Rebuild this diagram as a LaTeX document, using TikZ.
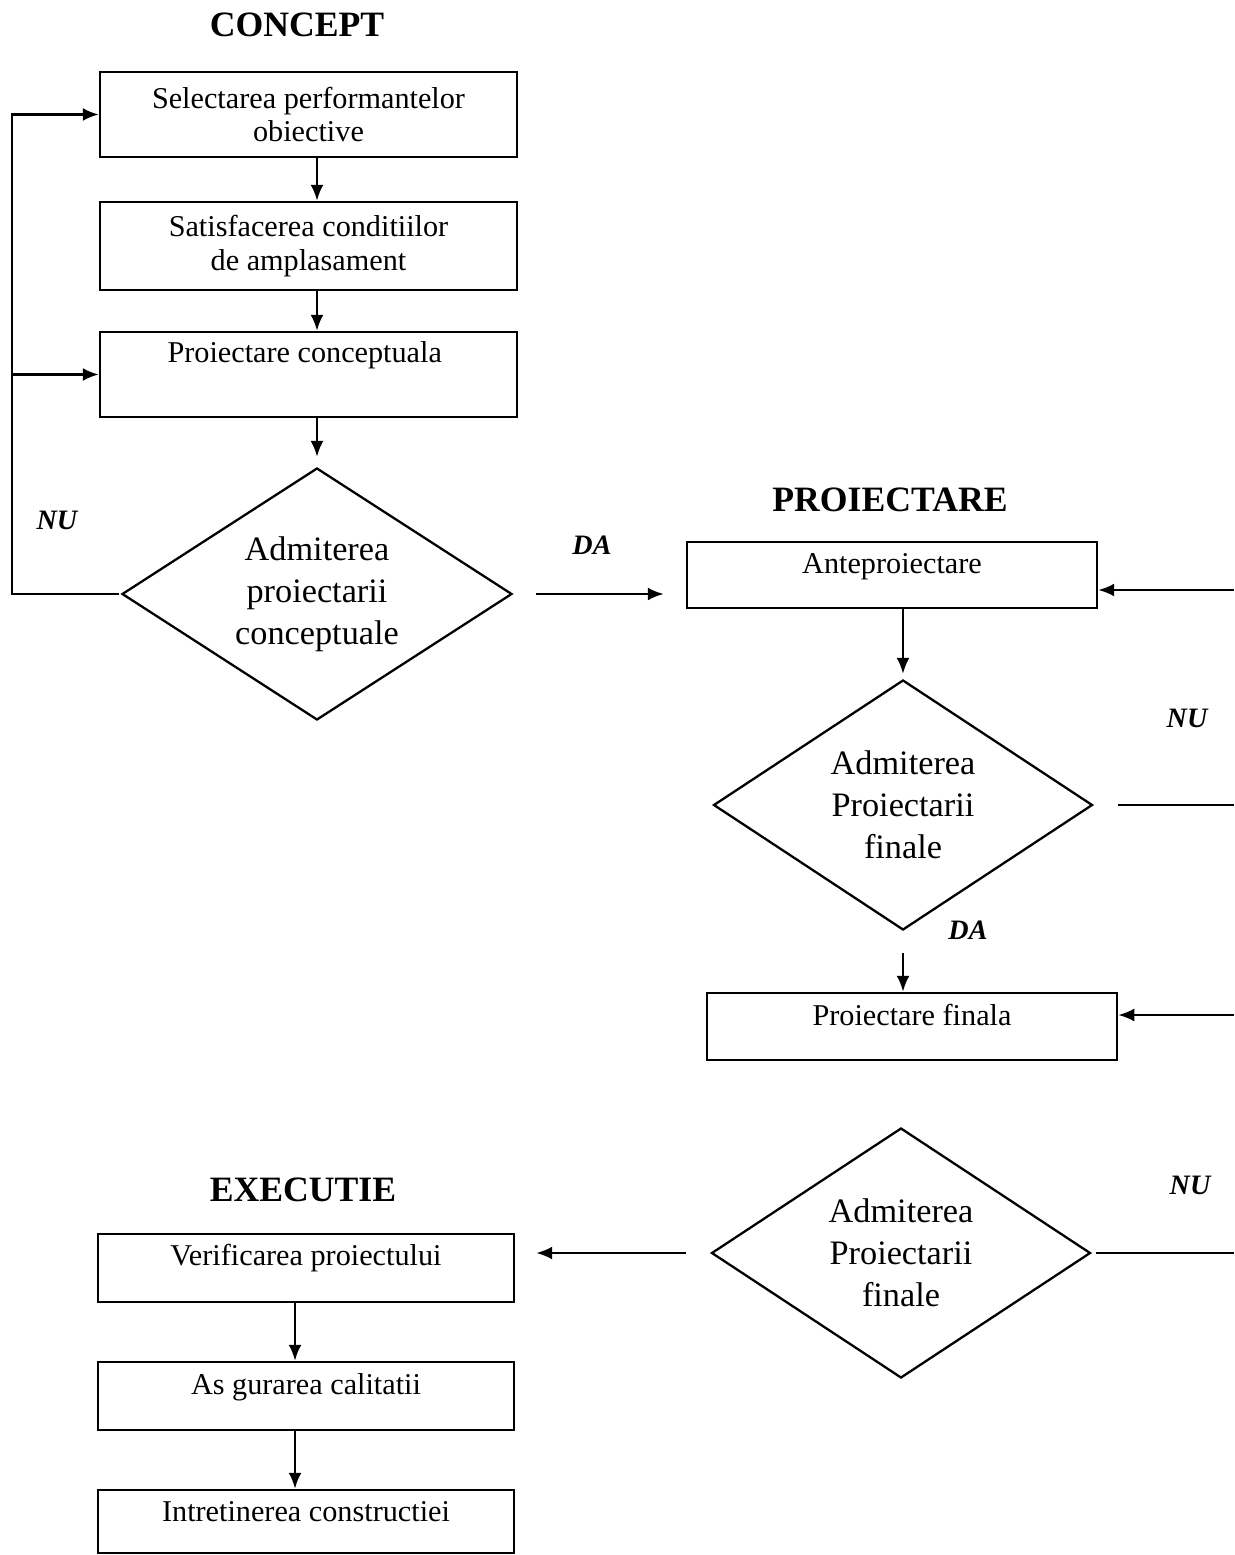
\documentclass[tikz,border=0pt]{standalone}
\usepackage{fontspec}
\setmainfont{Liberation Serif}
\usetikzlibrary{arrows.meta,shapes.geometric}
\tikzset{
  flow/.style={
    -{Latex[length=3.2mm,width=2.6mm]},
    draw=black,
    line width=1.4pt
  },
  link/.style={
    draw=black,
    line width=1.4pt
  },
  stage/.style={
    draw=black,
    line width=1.4pt,
    minimum width=8.34cm,
    minimum height=1.7cm,
    align=center,
    inner sep=2pt,
    font=\fontsize{17.2}{19}\selectfont
  },
  raised/.style={
    text depth=#1
  },
  decision/.style={
    diamond,
    aspect=1.55,
    draw=black,
    line width=1.3pt,
    minimum width=7.8cm,
    minimum height=5.04cm,
    align=center,
    inner sep=0pt,
    font=\fontsize{19.5}{24}\selectfont
  },
  phase/.style={
    font=\fontsize{20.3}{24}\selectfont\bfseries
  },
  answer/.style={
    font=\fontsize{16}{19}\selectfont\bfseries\itshape
  }
}

\begin{document}
\begin{tikzpicture}
  \useasboundingbox (0,0) rectangle (24.68,-31.1);

  \node[phase] (concept-title) at (5.94,-0.5) {CONCEPT};
  \node[stage] (concept-select) at (6.17,-2.29) {
    Selectarea performantelor\\obiective
  };
  \node[stage,minimum height=1.76cm] (concept-site) at (6.17,-4.92) {
    Satisfacerea conditiilor\\de amplasament
  };
  \node[stage,raised=26pt] (concept-draft) at (6.17,-7.49) {
    Proiectare conceptuala
  };
  \node[decision] (concept-check) at (6.34,-11.88) {
    Admiterea\\proiectarii\\conceptuale
  };
  \node[answer] (concept-nu) at (1.14,-10.4) {NU};
  \node[answer] (concept-da) at (11.84,-10.9) {DA};
  \coordinate (concept-loop) at (0.24,-11.88);

  \draw[flow] (concept-select.south -| concept-check.north) --
    (concept-site.north -| concept-check.north);
  \draw[flow] (concept-site.south -| concept-check.north) --
    (concept-draft.north -| concept-check.north);
  \draw[flow,shorten >=0.2cm] (concept-draft.south -| concept-check.north) --
    (concept-check.north);
  \draw[flow,shorten <=0.04cm] (concept-check.west) -- (concept-loop) |-
    (concept-select.west);
  \draw[flow] (concept-loop |- concept-draft.west) -- (concept-draft.west);

  \node[phase] (design-title) at (17.8,-10.0) {PROIECTARE};
  \node[stage,minimum width=8.2cm,minimum height=1.32cm,raised=12.6pt]
    (design-pre) at (17.84,-11.5) {Anteproiectare};
  \node[decision,minimum width=7.58cm,minimum height=5cm]
    (design-check) at (18.06,-16.1) {Admiterea\\Proiectarii\\finale};
  \node[stage,minimum width=8.2cm,minimum height=1.34cm,raised=13pt]
    (design-final) at (18.24,-20.53) {Proiectare finala};
  \node[decision,minimum width=7.58cm,minimum height=5cm]
    (design-accept) at (18.02,-25.06) {Admiterea\\Proiectarii\\finale};
  \node[answer] (design-nu-1) at (23.74,-14.36) {NU};
  \node[answer] (design-da) at (19.36,-18.6) {DA};
  \node[answer] (design-nu-2) at (23.8,-23.7) {NU};
  \coordinate (edge-pre) at (24.68,-11.8);
  \coordinate (edge-check) at (24.68,-16.02);
  \coordinate (edge-final) at (24.68,-20.3);
  \coordinate (edge-accept) at (24.68,-24.88);

  \draw[flow,shorten <=0.46cm,shorten >=0.44cm] (concept-check.east) --
    (concept-check.east -| design-pre.west);
  \draw[flow] (edge-pre) -- (edge-pre -| design-pre.east);
  \draw[flow,shorten >=0.1cm] (design-pre.south -| design-check.north) --
    (design-check.north);
  \draw[link,shorten <=0.48cm] (design-check.east) --
    (design-check.east -| edge-check);
  \draw[flow,shorten <=0.44cm] (design-check.south) --
    (design-check.south |- design-final.north);
  \draw[flow] (edge-final) -- (edge-final -| design-final.east);
  \draw[link,shorten <=0.08cm] (design-accept.east) --
    (design-accept.east -| edge-accept);

  \node[phase] (build-title) at (6.06,-23.8) {EXECUTIE};
  \node[stage,minimum width=8.32cm,minimum height=1.36cm,raised=15pt]
    (build-verify) at (6.12,-25.36) {Verificarea proiectului};
  \node[stage,minimum width=8.32cm,minimum height=1.36cm,raised=14pt]
    (build-quality) at (6.12,-27.92) {As gurarea calitatii};
  \node[stage,minimum width=8.32cm,minimum height=1.26cm,raised=11pt]
    (build-upkeep) at (6.12,-30.43) {Intretinerea constructiei};

  \draw[flow,shorten <=0.48cm,shorten >=0.42cm] (design-accept.west) --
    (design-accept.west -| build-verify.east);
  \draw[flow] ([xshift=-0.22cm]build-verify.south) --
    ([xshift=-0.22cm]build-quality.north);
  \draw[flow] ([xshift=-0.22cm]build-quality.south) --
    ([xshift=-0.22cm]build-upkeep.north);
\end{tikzpicture}
\end{document}
